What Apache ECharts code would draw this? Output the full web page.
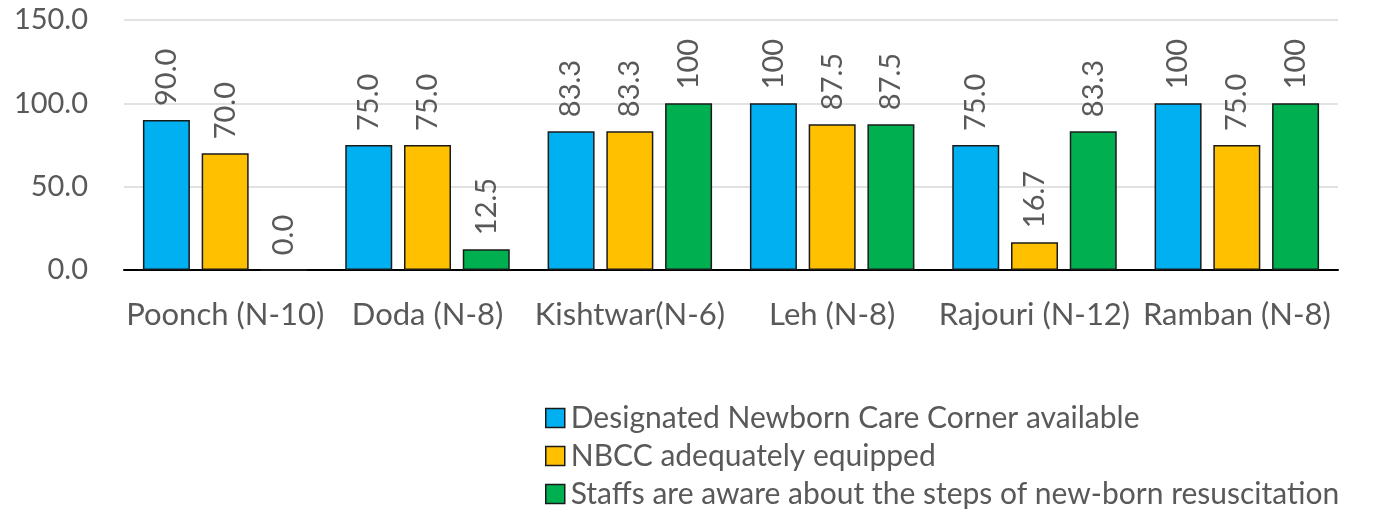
<!DOCTYPE html>
<html><head><meta charset="utf-8">
<script src="https://cdn.jsdelivr.net/npm/echarts@6/dist/echarts.min.js"></script>
<style>html,body{margin:0;padding:0;background:#fff}#c{width:1381px;height:510px}</style>
</head><body><div id="c"></div>
<script>
const categories = ['Poonch (N-10)','Doda (N-8)','Kishtwar(N-6)','Leh (N-8)','Rajouri (N-12)','Ramban (N-8)'];
const seriesNames = ['Designated Newborn Care Corner available','NBCC adequately equipped','Staffs are aware about the steps of new-born resuscitation'];
const nbccAvailable = [90.0, 75.0, 83.3, 100, 75.0, 100];
const nbccEquipped = [70.0, 75.0, 83.3, 87.5, 16.7, 75.0];
const staffAware = [0.0, 12.5, 100, 87.5, 83.3, 100];
const colors = ['#00B0F0','#FFC000','#00B050'];
const FONT = 'Lato';
const FS = 29;
const chart = echarts.init(document.getElementById('c'));
const fmt = p => p.value === 100 ? '100' : p.value.toFixed(1);
const mk = (name, data, color) => ({
  name, type:'bar', data, barWidth:47, barGap:'25%',
  itemStyle:{color, borderColor:'#1a1a1a', borderWidth:1.5},
  label:{show:true, position:'top', rotate:90, align:'left', verticalAlign:'middle', distance:14,
    formatter:fmt, color:'#595959', fontSize:FS, fontFamily:FONT}
});
chart.setOption({
  animation:false,
  grid:{left:124, right:43, top:20, bottom:240},
  legend:{orient:'vertical', left:540, top:398, height:130, itemWidth:19, itemHeight:19, itemGap:8,
    textStyle:{color:'#595959', fontSize:30, lineHeight:29, fontFamily:FONT, padding:[0,0,0,1]},
    data:seriesNames.map(n=>({name:n, icon:'rect', itemStyle:{borderColor:'#1a1a1a', borderWidth:1.5}}))},
  xAxis:{type:'category', data:categories,
    axisLine:{lineStyle:{color:'#000', width:2}}, axisTick:{show:false},
    axisLabel:{interval:0, color:'#595959', fontSize:31, fontFamily:FONT, margin:29}},
  yAxis:{type:'value', min:0, max:150, interval:50,
    axisLabel:{color:'#595959', fontSize:FS, fontFamily:FONT, formatter:v=>v.toFixed(1), margin:36},
    splitLine:{lineStyle:{color:'#d9d9d9', width:1.5}}, axisLine:{show:false}, axisTick:{show:false}},
  series:[mk(seriesNames[0], nbccAvailable, colors[0]), mk(seriesNames[1], nbccEquipped, colors[1]), mk(seriesNames[2], staffAware, colors[2])]
});
</script></body></html>
